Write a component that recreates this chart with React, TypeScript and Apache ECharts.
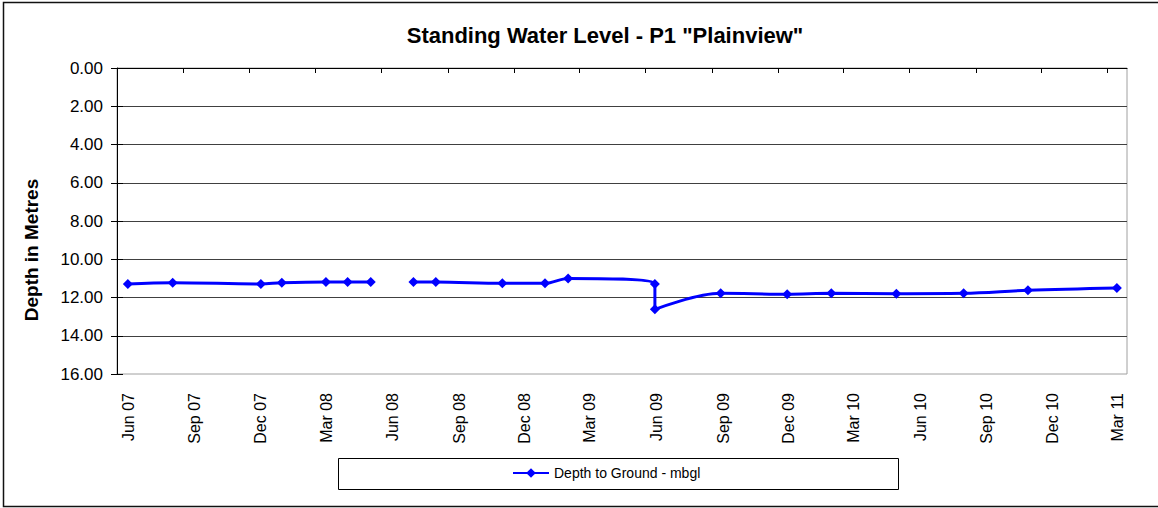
import React, { useEffect, useRef } from "react";
import * as echarts from "echarts";

const titleText = 'Standing Water Level - P1 "Plainview"';
const yAxisTitle = "Depth in Metres";
const seriesName = "Depth to Ground - mbgl";

const sampleDates = [
  "2007-06-16", "2007-08-17", "2007-12-17", "2008-01-15", "2008-03-16",
  "2008-04-15", "2008-05-17", "2008-06-15", "2008-07-15", "2008-08-15",
  "2008-11-15", "2009-01-13", "2009-02-14", "2009-06-14", "2009-06-14",
  "2009-09-13", "2009-12-14", "2010-02-13", "2010-05-14", "2010-08-15",
  "2010-11-12", "2011-03-15",
];
const depthValues: (number | null)[] = [
  11.29, 11.23, 11.29, 11.23, 11.19,
  11.19, 11.19, null, 11.19, 11.19,
  11.26, 11.26, 11.0, 11.29, 12.62,
  11.78, 11.83, 11.78, 11.8, 11.78,
  11.62, 11.5,
];
const quarterTicks = [
  "2007-06-01", "2007-09-01", "2007-12-01", "2008-03-01", "2008-06-01", "2008-09-01",
  "2008-12-01", "2009-03-01", "2009-06-01", "2009-09-01", "2009-12-01", "2010-03-01",
  "2010-06-01", "2010-09-01", "2010-12-01", "2011-03-01",
];
const xAxisEnd = "2011-03-29";
const monthNames = ["Jan", "Feb", "Mar", "Apr", "May", "Jun", "Jul", "Aug", "Sep", "Oct", "Nov", "Dec"];
const yTicks = [0, 2, 4, 6, 8, 10, 12, 14, 16];

const FONT = "'Liberation Sans', Arial, sans-serif";

const toTs = (s: string) => {
  const [y, m, d] = s.split("-").map(Number);
  return Date.UTC(y, m - 1, d);
};

export default function App() {
  const ref = useRef<HTMLDivElement>(null);
  useEffect(() => {
    document.body.style.margin = "0";
    if (!ref.current) return;
    const chart = echarts.init(ref.current, undefined, { renderer: "svg" });
    const tickValues = quarterTicks.map(toTs);
    const data = sampleDates.map((d, i) => [toTs(d), depthValues[i]]);
    const yCommon = {
      type: "value",
      inverse: true,
      min: yTicks[0],
      max: yTicks[yTicks.length - 1],
      interval: 2,
    };
    chart.setOption({
      animation: false,
      backgroundColor: "#ffffff",
      textStyle: { fontFamily: FONT },
      grid: {
        left: 117, top: 68, right: 31, bottom: 134,
        show: true, borderColor: "#a0a0a0", borderWidth: 1,
      },
      graphic: [
        {
          type: "rect",
          shape: { x: 3.5, y: 2.5, width: 1170, height: 504 },
          style: { fill: "none", stroke: "#111", lineWidth: 1.5 },
          z: 100,
        },
        {
          type: "rect",
          shape: { x: 338.5, y: 458.5, width: 560, height: 31 },
          style: { fill: "none", stroke: "#000", lineWidth: 1 },
          z: 100,
        },
        {
          type: "text",
          x: 605,
          y: 35,
          style: {
            text: titleText,
            font: `bold 22px ${FONT}`,
            fill: "#000",
            textAlign: "center",
            textVerticalAlign: "middle",
          },
          z: 100,
        },
        {
          type: "text",
          x: 31,
          y: 250,
          rotation: Math.PI / 2,
          style: {
            text: yAxisTitle,
            font: `bold 19px ${FONT}`,
            fill: "#000",
            textAlign: "center",
            textVerticalAlign: "middle",
          },
          z: 100,
        },
      ],
      legend: {
        left: 512,
        top: 466,
        itemWidth: 36,
        itemHeight: 12,
        itemGap: 5,
        padding: 0,
        textStyle: { fontSize: 14, color: "#000", fontFamily: FONT },
        data: [seriesName],
      },
      xAxis: {
        type: "value",
        min: tickValues[0],
        max: toTs(xAxisEnd),
        axisLine: { show: true, lineStyle: { color: "#000", width: 1 } },
        axisTick: { show: true, length: 5, customValues: tickValues, lineStyle: { color: "#000" } },
        splitLine: { show: false },
        axisLabel: {
          customValues: tickValues,
          rotate: 90,
          margin: 19,
          fontSize: 16,
          color: "#000",
          fontFamily: FONT,
          align: "right",
          verticalAlign: "top",
          lineHeight: 22,
          formatter: (v: number) => {
            const d = new Date(v);
            return `${monthNames[d.getUTCMonth()]} ${String(d.getUTCFullYear() % 100).padStart(2, "0")}`;
          },
        },
      },
      yAxis: [
        {
          ...yCommon,
          axisLine: { show: true, lineStyle: { color: "#000", width: 1 } },
          axisTick: { show: true, length: 6, lineStyle: { color: "#000" } },
          axisLabel: {
            margin: 14,
            fontSize: 17,
            color: "#000",
            fontFamily: FONT,
            formatter: (v: number) => v.toFixed(2),
          },
          splitLine: { show: true, showMinLine: false, showMaxLine: false, lineStyle: { color: "#404040", width: 1 } },
        },
        {
          ...yCommon,
          position: "left",
          offset: 0,
          axisLine: { show: false },
          axisTick: { show: true, inside: true, length: 6, lineStyle: { color: "#000" } },
          axisLabel: { show: false },
          splitLine: { show: false },
        },
      ],
      series: [
        {
          name: seriesName,
          type: "line",
          data,
          smooth: 0.35,
          connectNulls: false,
          symbol: "diamond",
          symbolSize: 10,
          showAllSymbol: true,
          itemStyle: { color: "#0000ff" },
          lineStyle: { color: "#0000ff", width: 3 },
        },
      ],
    });
    return () => chart.dispose();
  }, []);
  return <div ref={ref} style={{ width: 1158, height: 508 }} />;
}
